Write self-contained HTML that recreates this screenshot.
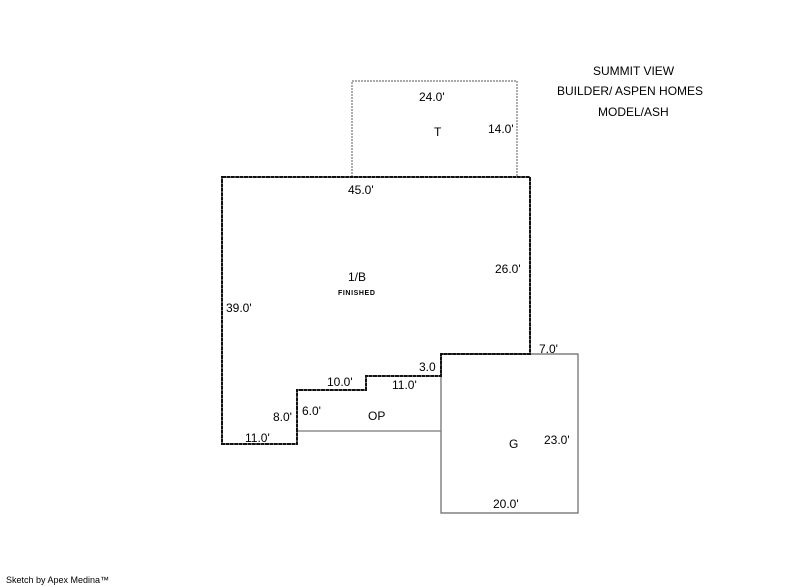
<!DOCTYPE html>
<html><head><meta charset="utf-8"><style>
html,body{margin:0;padding:0;background:#fff;}
svg{display:block;}
text{font-family:"Liberation Sans",Arial,sans-serif;font-size:12px;fill:#000;}
</style></head><body>
<svg width="800" height="587" viewBox="0 0 800 587">
<polyline points="352,177 352,81 517,81 517,177" fill="none" stroke="#777" stroke-width="1.2" stroke-dasharray="2,1"/>
<polygon points="441,354 578,354 578,513 441,513" fill="none" stroke="#666" stroke-width="1.2"/>
<line x1="297" y1="431" x2="441" y2="431" stroke="#777" stroke-width="1.2"/>
<polygon points="222,177 530,177 530,354 441,354 441,376 366,376 366,390 297,390 297,444 222,444" fill="none" stroke="#111" stroke-width="2" stroke-dasharray="4,0.4"/>
<text x="593" y="75">SUMMIT VIEW</text>
<text x="557" y="95">BUILDER/ ASPEN HOMES</text>
<text x="598" y="116">MODEL/ASH</text>
<text x="419" y="101">24.0'</text>
<text x="434" y="136">T</text>
<text x="488" y="133">14.0'</text>
<text x="348" y="194">45.0'</text>
<text x="495" y="273">26.0'</text>
<text x="348" y="281">1/B</text>
<text x="338" y="295" style="font-size:7px;font-weight:bold;letter-spacing:0.6px">FINISHED</text>
<text x="226" y="312">39.0'</text>
<text x="539" y="353">7.0'</text>
<text x="419" y="371">3.0</text>
<text x="327" y="386">10.0'</text>
<text x="392" y="389">11.0'</text>
<text x="273" y="421">8.0'</text>
<text x="302" y="415">6.0'</text>
<text x="368" y="420">OP</text>
<text x="245" y="442">11.0'</text>
<text x="509" y="448">G</text>
<text x="544" y="444">23.0'</text>
<text x="493" y="508">20.0'</text>
<text x="6" y="583" style="font-size:9px">Sketch by Apex Medina™</text>
</svg>
</body></html>
